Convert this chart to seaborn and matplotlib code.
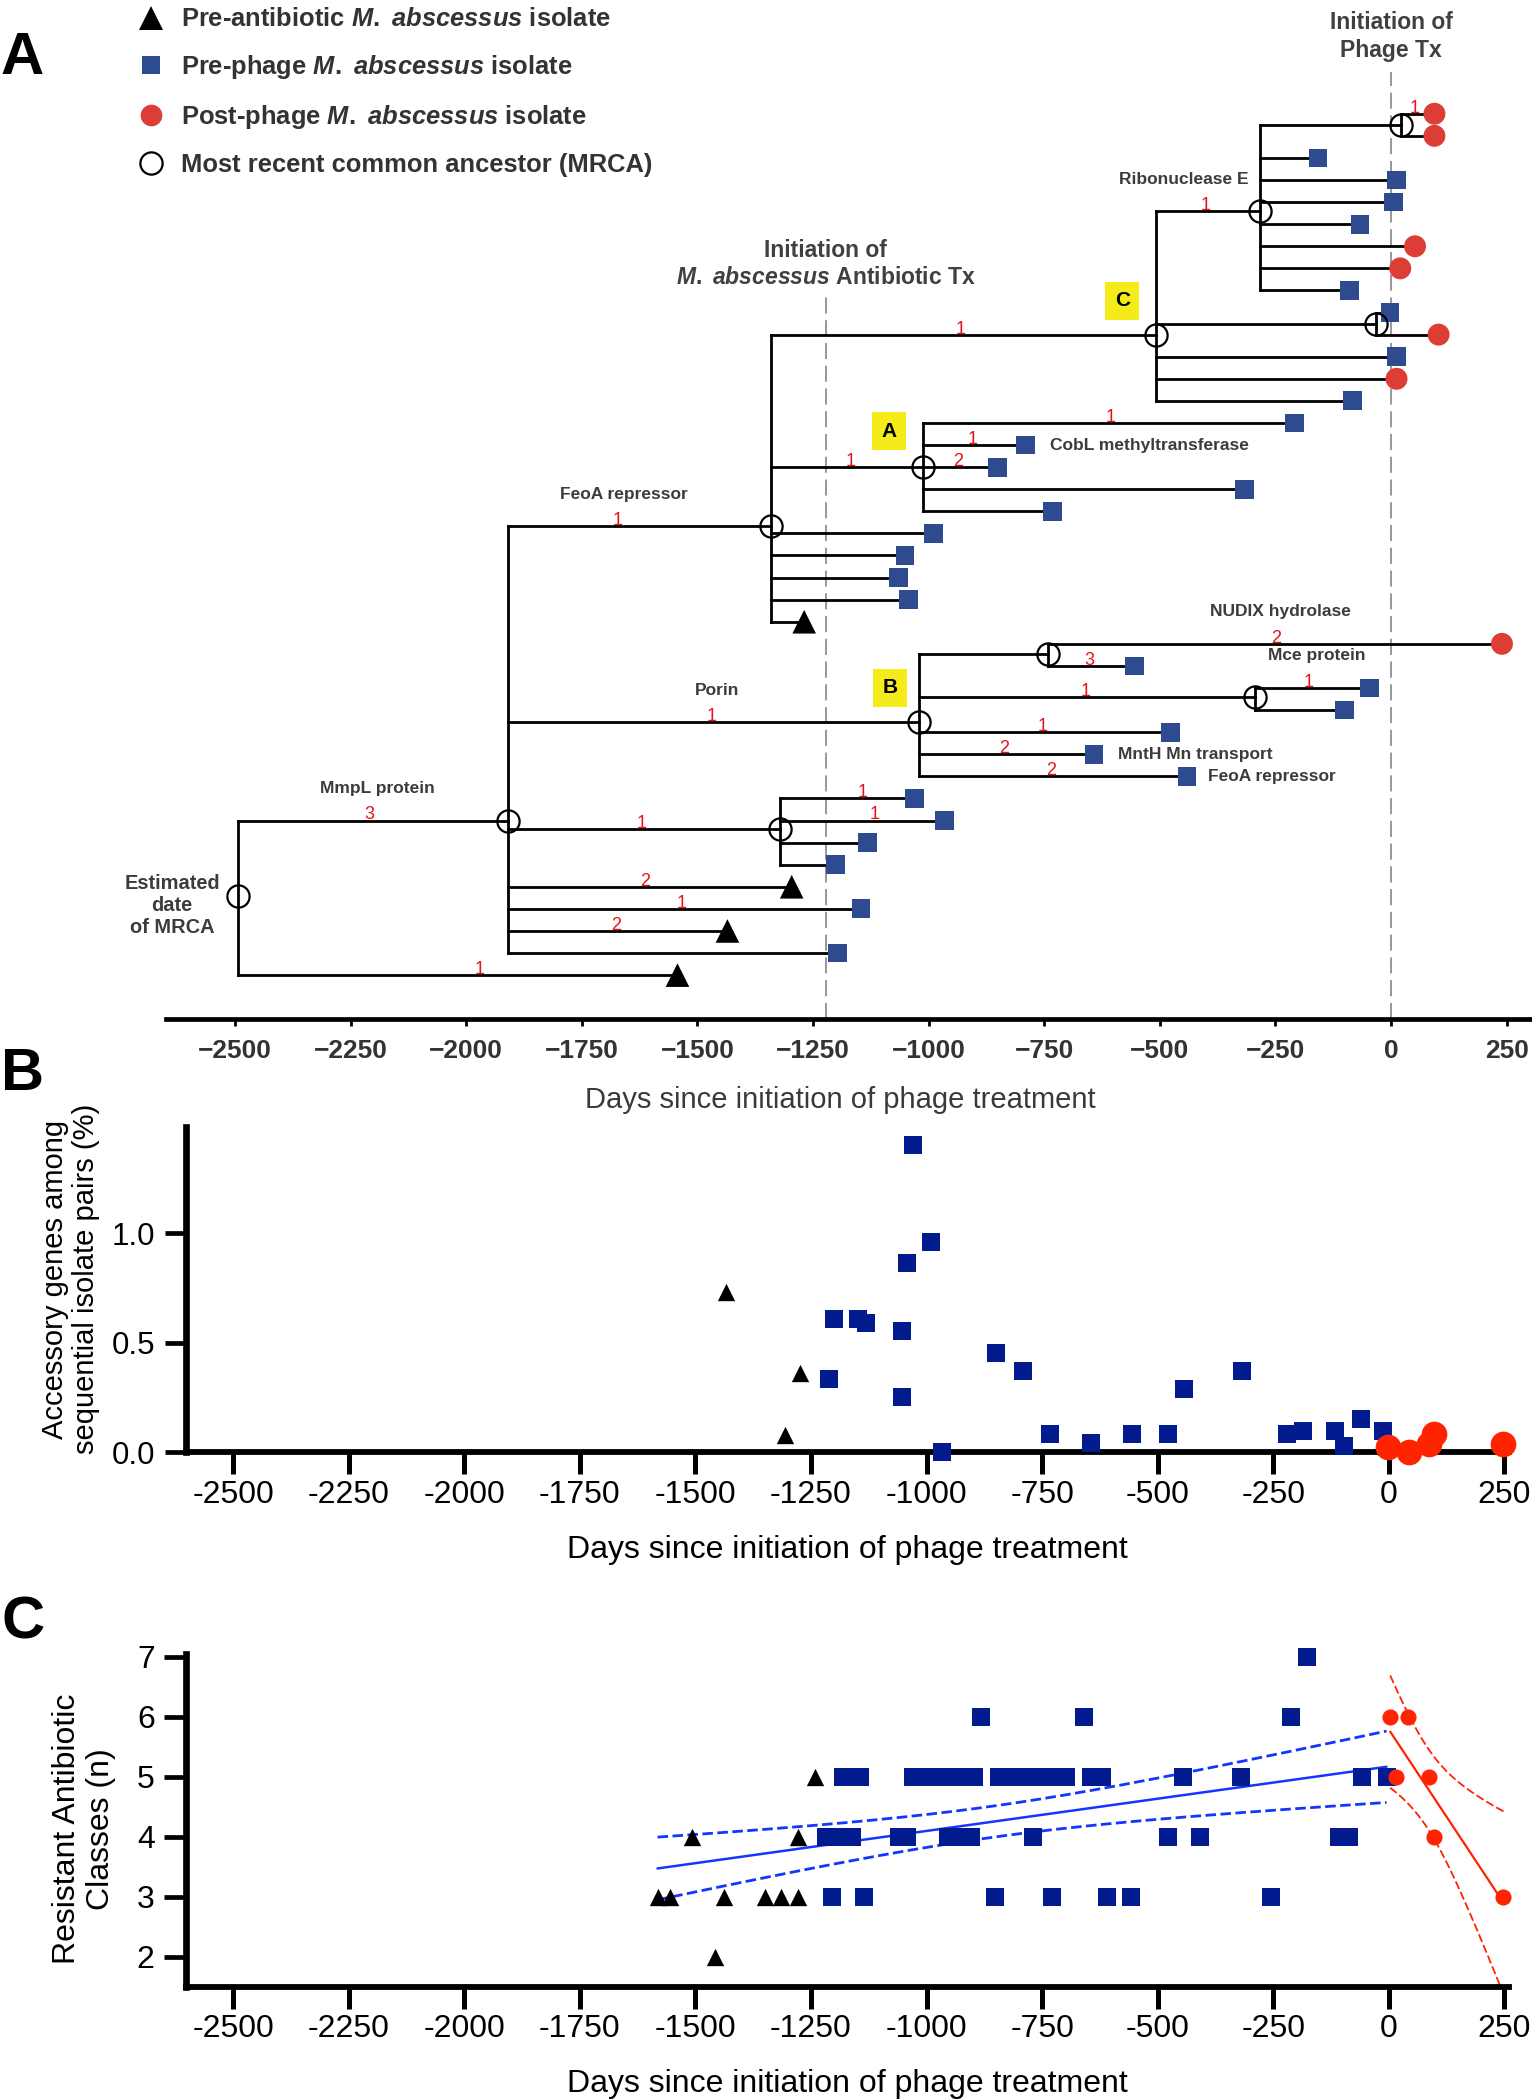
import numpy as np
import pandas as pd
import matplotlib
matplotlib.use("Agg")
import matplotlib.pyplot as plt
from matplotlib.lines import Line2D
import seaborn as sns
from math import gamma, sqrt, pi

sns.set_style("ticks")
plt.rcParams.update({
    'font.family': ['Liberation Sans', 'DejaVu Sans'],
    'mathtext.fontset': 'custom',
    'mathtext.it': 'Liberation Sans:italic:bold',
    'mathtext.rm': 'Liberation Sans:bold',
    'mathtext.bf': 'Liberation Sans:bold',
    'text.color': 'black', 'axes.labelcolor': 'black',
    'xtick.color': 'black', 'ytick.color': 'black', 'axes.edgecolor': 'black',
})

# ======================= DATA =======================
# ---- Panel A: phylogeny; tips listed top -> bottom (row index = position) ----
tip_day = [94, 94, -158, 12, 6, -67, 52, 20, -89, -2,
           103, 12, 12, -83, -209, -790, -851, -317, -732, -989,
           -1051, -1065, -1043, -1269, 240, -554, -47, -100, -476, -642,
           -441, -1031, -966, -1132, -1201, -1296, -1146, -1435, -1197, -1543]
tip_kind = ['post', 'post', 'pre', 'pre', 'pre', 'pre', 'post', 'post', 'pre', 'pre',
            'post', 'pre', 'post', 'pre', 'pre', 'pre', 'pre', 'pre', 'pre', 'pre',
            'pre', 'pre', 'pre', 'abx', 'post', 'pre', 'pre', 'pre', 'pre', 'pre',
            'pre', 'pre', 'pre', 'pre', 'pre', 'abx', 'pre', 'abx', 'pre', 'abx']

# internal nodes (MRCAs): date and vertical row position
node_name = ['root', 'N1', 'FeoA', 'C', 'RNaseE', 'ntop', 'n1027', 'A', 'B', 'n783', 'n937', 'n583']
node_day = [-2494, -1910, -1341, -509, -283, 22, -33, -1011, -1021, -741, -293, -1322]
node_row = [35.4, 32.0, 18.67, 10.0, 4.41, 0.5, 9.5, 16.0, 27.55, 24.45, 26.4, 32.4]
node_children = [['N1', 39], ['FeoA', 'B', 'n583', 35, 36, 37, 38],
                 ['C', 'A', 19, 20, 21, 22, 23], ['RNaseE', 'n1027', 11, 12, 13],
                 ['ntop', 2, 3, 4, 5, 6, 7, 8], [0, 1], [9, 10], [14, 15, 16, 17, 18],
                 ['n783', 'n937', 28, 29, 30], [24, 25], [26, 27], [31, 32, 33, 34]]

# mutation counts on branches (branch = child node / tip)
mut_branch = [0, 'RNaseE', 'C', 'A', 14, 15, 16, 'FeoA', 24, 25, 'n937', 26,
              28, 29, 30, 'B', 'n583', 31, 32, 35, 36, 37, 'N1', 39]
mut_day = [52, -400, -931, -1168, -606, -904, -936, -1673, -249, -653, -661, -177,
           -754, -837, -736, -1469, -1621, -1143, -1116, -1613, -1533, -1676, -2209, -1970]
mut_count = ['1', '1', '1', '1', '1', '1', '2', '1', '2', '3', '1', '1',
             '1', '2', '2', '1', '1', '1', '1', '2', '1', '2', '3', '1']

gene_branch = ['RNaseE', 'FeoA', 24, 26, 'B', 'N1']
gene_day = [-449, -1658, -239, -161, -1458, -2191]
gene_name = ['Ribonuclease E', 'FeoA repressor', 'NUDIX hydrolase', 'Mce protein', 'Porin', 'MmpL protein']

tipgene_row = [15, 29, 30]
tipgene_day = [-738, -591, -395]
tipgene_name = ['CobL methyltransferase', 'MntH Mn transport', 'FeoA repressor']

clade_label = ['C', 'A', 'B']
clade_day = [-581, -1086, -1083]
clade_row = [8.47, 14.37, 26.0]

abx_day = -1222
phage_day = 0

day_ticks = [-2500, -2250, -2000, -1750, -1500, -1250, -1000, -750, -500, -250, 0, 250]

# ---- Panel B: accessory genes among sequential isolate pairs (%) ----
b_abx_day = [-1434, -1274, -1307]
b_abx_val = [0.73, 0.364, 0.078]
b_pre_day = [-1030, -991, -1042, -1201, -1148, -1131, -1053, -1210, -1053, -850, -791, -966,
             -734, -645, -556, -478, -442, -317, -220, -185, -117, -97, -60, -12, -3]
b_pre_val = [1.403, 0.959, 0.863, 0.61, 0.61, 0.592, 0.554, 0.333, 0.251, 0.452, 0.371, 0.0,
             0.082, 0.041, 0.082, 0.082, 0.289, 0.371, 0.083, 0.099, 0.099, 0.030, 0.152, 0.099, 0.023]
b_post_day = [-1, 43, 87, 98, 248]
b_post_val = [0.023, 0.0, 0.038, 0.083, 0.038]

# ---- Panel C: resistant antibiotic classes (n) ----
c_abx_day = [-1582, -1556, -1438, -1349, -1315, -1279, -1508, -1279, -1241, -1457]
c_abx_val = [3, 3, 3, 3, 3, 3, 4, 4, 5, 2]
c_pre_day = [-1205, -1135, -851, -729, -609, -557, -255,
             -1217, -1189, -1161, -1060, -1042, -953, -928, -903, -769, -478, -409, -107, -86,
             -1180, -1143, -1030, -996, -963, -930, -897, -844, -808, -772, -736, -699, -644,
             -620, -445, -319, -58, -5,
             -883, -659, -212,
             -177]
c_pre_val = [3] * 7 + [4] * 13 + [5] * 18 + [6] * 3 + [7]
c_post_day = [3, 42, 16, 87, 97, 248]
c_post_val = [6, 6, 5, 5, 4, 3]

# ======================= STYLE =======================
A_BLUE, A_RED = '#2D4B8E', '#DC3D35'
BLUE, RED, FIT_BLUE, FIT_RED = '#021B8E', '#FF2400', '#1535FF', '#FF2400'
GREY_TXT = '#3c3c3c'
W, H = 1532, 2100

fig = plt.figure(figsize=(W / 100, H / 100), dpi=100)


def box(x0, yt, x1, yb):
    return [x0 / W, 1 - yb / H, (x1 - x0) / W, (yb - yt) / H]


axA = fig.add_axes(box(165.6, 0, 1532, 1019.3))
axB = fig.add_axes(box(186, 1126.7, 1509, 1452.3))
axC = fig.add_axes(box(186, 1654, 1509, 1986.7))


def pos(c):
    if isinstance(c, str):
        i = node_name.index(c)
        return node_day[i], node_row[i]
    return tip_day[c], c


# ======================= PANEL A =======================
YB, YT = 41.0, -5.15
axA.set_xlim(-2650, 305)
axA.set_ylim(YB, YT)

for nd, nr, ch in zip(node_day, node_row, node_children):
    cys = [pos(c)[1] for c in ch]
    axA.vlines(nd, min(cys), max(cys), colors='black', linewidth=2.0,
               capstyle='projecting', zorder=2)
    for c in ch:
        cx, cy = pos(c)
        axA.hlines(cy, nd, cx, colors='black', linewidth=2.0, capstyle='projecting', zorder=2)

df_tips = pd.DataFrame({'day': tip_day, 'row': list(range(len(tip_day))), 'kind': tip_kind})
sns.scatterplot(data=df_tips, x='day', y='row', hue='kind', style='kind', size='kind',
                palette={'abx': 'black', 'pre': A_BLUE, 'post': A_RED},
                markers={'abx': '^', 'pre': 's', 'post': 'o'},
                sizes={'abx': 17 ** 2, 'pre': 13.5 ** 2, 'post': 15.8 ** 2},
                linewidth=0, legend=False, ax=axA, zorder=5)
axA.plot(node_day, node_row, ls='none', marker='o', ms=16, mfc='none', mec='black',
         mew=1.6, zorder=6)

for b, d, t in zip(mut_branch, mut_day, mut_count):
    axA.text(d, pos(b)[1] - 0.05, t, color='#E3141B', fontsize=13, ha='center',
             va='baseline', zorder=7)
for b, d, t in zip(gene_branch, gene_day, gene_name):
    axA.text(d, pos(b)[1] - 1.45, t, color=GREY_TXT, fontsize=12.5, fontweight='bold',
             ha='center', va='center', zorder=7)
for r, d, t in zip(tipgene_row, tipgene_day, tipgene_name):
    axA.text(d, r, t, color=GREY_TXT, fontsize=12.5, fontweight='bold',
             ha='left', va='center', zorder=7)
for lab, d, r in zip(clade_label, clade_day, clade_row):
    axA.text(d, r, lab, fontsize=15, fontweight='bold', ha='center', va='center', zorder=3,
             bbox=dict(boxstyle='square,pad=0.45', fc='#F5EB1B', ec='none'))

axA.axvline(abx_day, ymin=0, ymax=(YB - 8.05) / (YB - YT), color='#9a9a9a', lw=1.45,
            dashes=(8, 3.3), zorder=1)
axA.axvline(phage_day, ymin=0, ymax=(YB + 1.9) / (YB - YT), color='#9a9a9a', lw=1.45,
            dashes=(8, 3.3), zorder=1)
axA.text(abx_day, 6.79, 'Initiation of\n$\\mathit{M.\\ abscessus}$ Antibiotic Tx',
         ha='center', va='center', fontsize=16.5, fontweight='bold', color='#404040',
         linespacing=1.2, multialignment='center')
axA.text(phage_day, -3.5, 'Initiation of\nPhage Tx', ha='center', va='center',
         fontsize=16.5, fontweight='bold', color='#404040', linespacing=1.25,
         multialignment='center')
axA.text(-2636, 35.87, 'Estimated\ndate\nof MRCA', ha='center', va='center', fontsize=14.4,
         fontweight='bold', color=GREY_TXT, linespacing=1.2, multialignment='center')

for s in ['left', 'right', 'top']:
    axA.spines[s].set_visible(False)
axA.spines['bottom'].set_linewidth(3.4)
axA.set_yticks([])
axA.set_xticks(day_ticks)
axA.set_xticklabels([str(t).replace('-', '\u2212') for t in day_ticks],
                    fontsize=19, fontweight='bold', color='#333333')
axA.tick_params(axis='x', bottom=True, length=5, width=2, pad=9)
axA.set_ylabel('')
axA.set_xlabel('Days since initiation of phage treatment', fontsize=21, color='#3a3a3a',
               va='top')
axA.xaxis.set_label_coords(0.4935, -0.065)

handles = [Line2D([], [], ls='none', marker='^', ms=17, color='black', mew=0),
           Line2D([], [], ls='none', marker='s', ms=13.2, color=A_BLUE, mew=0),
           Line2D([], [], ls='none', marker='o', ms=15.6, color=A_RED, mew=0),
           Line2D([], [], ls='none', marker='o', ms=16, mfc='none', mec='black', mew=1.6)]
labels = ['Pre-antibiotic $\\mathit{M.\\ abscessus}$ isolate',
          'Pre-phage $\\mathit{M.\\ abscessus}$ isolate',
          'Post-phage $\\mathit{M.\\ abscessus}$ isolate',
          'Most recent common ancestor (MRCA)']
leg = axA.legend(handles, labels, loc='upper left', bbox_to_anchor=(138.5 / W, 1 - 7.5 / H),
                 bbox_transform=fig.transFigure, frameon=False,
                 prop={'size': 18.4, 'weight': 'bold'}, handlelength=1.0,
                 handletextpad=0.65, labelspacing=0.85, borderpad=0, borderaxespad=0)
for t in leg.get_texts():
    t.set_color('#333333')


# ======================= PANELS B / C common =======================
def style_axis(ax, ylen):
    sns.despine(ax=ax)
    ax.spines['left'].set_linewidth(4.8)
    ax.spines['bottom'].set_linewidth(4.2)
    ax.set_xlim(-2602, 260)
    ax.set_xticks(day_ticks)
    ax.set_xticklabels([str(t) for t in day_ticks], fontsize=23)
    ax.tick_params(axis='x', bottom=True, length=16, width=3.6, pad=4)
    ax.tick_params(axis='y', left=True, length=ylen, width=3.4, pad=7, labelsize=22.5)
    ax.set_xlabel('Days since initiation of phage treatment', fontsize=23, va='top')


# ======================= PANEL B =======================
sns.scatterplot(x=b_abx_day, y=b_abx_val, marker='^', color='black', s=12.5 ** 2,
                linewidth=0, ax=axB, zorder=4)
sns.scatterplot(x=b_pre_day, y=b_pre_val, marker='s', color=BLUE, s=12.7 ** 2,
                linewidth=0, ax=axB, zorder=4)
sns.scatterplot(x=b_post_day, y=b_post_val, marker='o', color=RED, s=18.5 ** 2,
                linewidth=0, ax=axB, zorder=4)
for c in axB.collections:
    c.set_clip_on(False)
style_axis(axB, 15)
axB.set_ylim(0, 1.487)
axB.set_yticks([0, 0.5, 1.0])
axB.set_yticklabels(['0.0', '0.5', '1.0'])
axB.set_ylabel('Accessory genes among\nsequential isolate pairs (%)', fontsize=21,
               linespacing=1.15)
axB.yaxis.set_label_coords(-0.065, 0.532)
axB.xaxis.set_label_coords(0.5, -0.255)


# ======================= PANEL C =======================
def t975(df):
    xs = np.linspace(0, 30, 300001)
    c = gamma((df + 1) / 2) / (sqrt(df * pi) * gamma(df / 2))
    pdf = c * (1 + xs ** 2 / df) ** (-(df + 1) / 2)
    cdf = 0.5 + np.cumsum(pdf) * (xs[1] - xs[0])
    return xs[np.searchsorted(cdf, 0.975)]


def fit_ci(x, y):
    x = np.asarray(x, float)
    y = np.asarray(y, float)
    n = len(x)
    b, a = np.polyfit(x, y, 1)
    xs = np.linspace(x.min(), x.max(), 200)
    yh = a + b * xs
    s = np.sqrt(np.sum((y - (a + b * x)) ** 2) / (n - 2))
    sxx = np.sum((x - x.mean()) ** 2)
    h = t975(n - 2) * s * np.sqrt(1 / n + (xs - x.mean()) ** 2 / sxx)
    return xs, yh, yh - h, yh + h


pre_x = c_abx_day + c_pre_day
pre_y = c_abx_val + c_pre_val
xs, yh, lo, hi = fit_ci(pre_x, pre_y)
axC.plot(xs, yh, color=FIT_BLUE, lw=1.8, zorder=2)
axC.plot(xs, lo, color=FIT_BLUE, lw=2.0, dashes=(3.8, 1.6), zorder=2)
axC.plot(xs, hi, color=FIT_BLUE, lw=2.0, dashes=(3.8, 1.6), zorder=2)
xs, yh, lo, hi = fit_ci(c_post_day, c_post_val)
axC.plot(xs, yh, color=FIT_RED, lw=1.6, zorder=2)
axC.plot(xs, lo, color=FIT_RED, lw=1.3, dashes=(4.6, 1.8), zorder=2)
axC.plot(xs, hi, color=FIT_RED, lw=1.3, dashes=(4.6, 1.8), zorder=2)

n_lines = len(axC.collections)
sns.scatterplot(x=c_abx_day, y=c_abx_val, marker='^', color='black', s=12.5 ** 2,
                linewidth=0, ax=axC, zorder=4)
sns.scatterplot(x=c_pre_day, y=c_pre_val, marker='s', color=BLUE, s=13 ** 2,
                linewidth=0, ax=axC, zorder=4)
sns.scatterplot(x=c_post_day, y=c_post_val, marker='o', color=RED, s=11.6 ** 2,
                linewidth=0, ax=axC, zorder=4)
for c in axC.collections:
    c.set_clip_on(False)
style_axis(axC, 15.5)
axC.set_ylim(1.5, 7.05)
axC.set_yticks([2, 3, 4, 5, 6, 7])
axC.set_yticklabels(['2', '3', '4', '5', '6', '7'], fontsize=23)
axC.set_ylabel('Resistant Antibiotic\nClasses (n)', fontsize=23, linespacing=1.15)
axC.yaxis.set_label_coords(-0.053, 0.474)
axC.xaxis.set_label_coords(0.5, -0.248)

# ======================= panel letters =======================
for lab, yy in zip(['A', 'B', 'C'], [59, 1074, 1623]):
    fig.text(1 / W, 1 - yy / H, lab, fontsize=43, fontweight='bold', ha='left', va='center')

fig.savefig('out.png', dpi=100)
